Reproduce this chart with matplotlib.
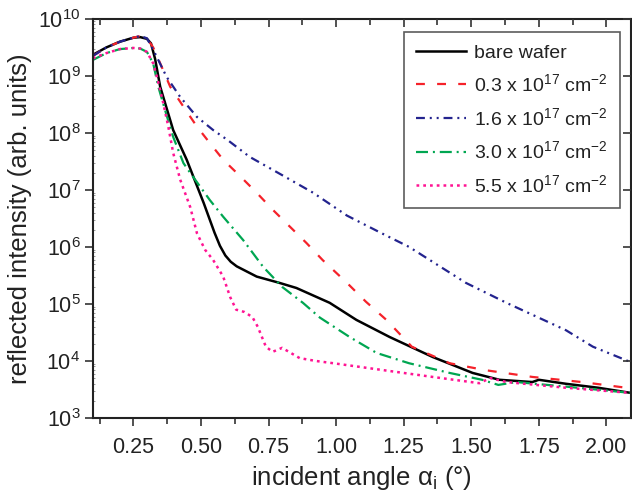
import numpy as np
import matplotlib
matplotlib.use("Agg")
from matplotlib import pyplot as plt
from matplotlib.ticker import FixedLocator, NullFormatter, LogFormatterMathtext

plt.rcParams['font.family'] = ['Liberation Sans', 'DejaVu Sans']
plt.rcParams['mathtext.fontset'] = 'custom'
plt.rcParams['mathtext.rm'] = 'Liberation Sans'
plt.rcParams['mathtext.it'] = 'Liberation Sans:italic'

# curves: angle (deg), log10(intensity)
bare_x = [0.10, 0.15, 0.20, 0.25, 0.275, 0.30, 0.315, 0.33, 0.349, 0.397, 0.447, 0.51, 0.55,
          0.57, 0.59, 0.61, 0.632, 0.706, 0.79, 0.853, 0.976, 1.075, 1.198, 1.357, 1.505,
          1.604, 1.726, 1.75, 1.85, 1.97, 2.09]
bare_y = [9.37, 9.50, 9.60, 9.67, 9.68, 9.65, 9.57, 9.30, 8.81, 8.05, 7.53, 6.77, 6.25,
          6.02, 5.85, 5.74, 5.66, 5.48, 5.37, 5.28, 5.02, 4.72, 4.42, 4.07, 3.79,
          3.67, 3.63, 3.67, 3.60, 3.53, 3.44]

d03_x = [0.10, 0.15, 0.20, 0.25, 0.275, 0.30, 0.323, 0.349, 0.386, 0.435, 0.485, 0.533, 0.582,
         0.645, 0.706, 0.766, 0.83, 0.89, 0.95, 1.04, 1.11, 1.186, 1.28, 1.42, 1.55, 1.726,
         1.91, 2.09]
d03_y = [9.35, 9.50, 9.60, 9.67, 9.70, 9.66, 9.50, 9.22, 8.81, 8.46, 8.11, 7.82, 7.53,
         7.24, 6.95, 6.65, 6.35, 6.07, 5.77, 5.37, 5.04, 4.72, 4.25, 3.96, 3.84, 3.72,
         3.63, 3.52]

d16_x = [0.10, 0.15, 0.20, 0.25, 0.275, 0.30, 0.323, 0.373, 0.423, 0.485, 0.545, 0.597, 0.68,
         0.80, 0.915, 1.04, 1.16, 1.27, 1.48, 1.63, 1.85, 1.95, 2.09]
d16_y = [9.35, 9.50, 9.60, 9.67, 9.70, 9.66, 9.46, 8.98, 8.63, 8.28, 8.05, 7.88, 7.58,
         7.26, 6.95, 6.55, 6.26, 6.00, 5.37, 5.02, 4.54, 4.25, 3.98]

d30_x = [0.10, 0.15, 0.20, 0.25, 0.275, 0.30, 0.323, 0.342, 0.367, 0.397, 0.435, 0.46, 0.533,
         0.582, 0.656, 0.73, 0.80, 0.877, 0.94, 1.05, 1.15, 1.27, 1.42, 1.54, 1.60, 1.667,
         1.85, 2.09]
d30_y = [9.28, 9.40, 9.47, 9.49, 9.48, 9.42, 9.22, 8.81, 8.40, 7.93, 7.47, 7.30, 6.82,
         6.53, 6.12, 5.65, 5.30, 5.02, 4.76, 4.42, 4.14, 3.96, 3.79, 3.67, 3.58, 3.63,
         3.55, 3.44]

d55_x = [0.10, 0.15, 0.20, 0.25, 0.275, 0.30, 0.323, 0.337, 0.36, 0.379, 0.397, 0.423, 0.46,
         0.485, 0.515, 0.545, 0.582, 0.608, 0.63, 0.66, 0.69, 0.71, 0.74, 0.765, 0.80, 0.865,
         0.925, 0.99, 1.173, 1.357, 1.53, 1.57, 1.63, 1.85, 2.09]
d55_y = [9.31, 9.40, 9.47, 9.49, 9.48, 9.42, 9.22, 8.98, 8.53, 8.11, 7.65, 7.18, 6.70,
         6.24, 5.95, 5.77, 5.48, 5.12, 4.90, 4.86, 4.77, 4.60, 4.25, 4.16, 4.23, 4.05,
         4.00, 3.96, 3.84, 3.72, 3.61, 3.70, 3.63, 3.53, 3.44]

labels = ['bare wafer',
          r'0.3 x 10$^{17}$ cm$^{-2}$',
          r'1.6 x 10$^{17}$ cm$^{-2}$',
          r'3.0 x 10$^{17}$ cm$^{-2}$',
          r'5.5 x 10$^{17}$ cm$^{-2}$']

x_major = [0.25, 0.5, 0.75, 1.0, 1.25, 1.5, 1.75, 2.0]
x_minor = [0.125, 0.375, 0.625, 0.875, 1.125, 1.375, 1.625, 1.875]
y_major = [1e3, 1e4, 1e5, 1e6, 1e7, 1e8, 1e9, 1e10]
y_minor = [m * 10.0 ** e for e in range(3, 10) for m in range(2, 10)]

fig = plt.figure(figsize=(6.32, 4.97), dpi=100)
rect = [0.147, 0.159, 0.851, 0.803]
ax = fig.add_axes(rect)

ax.plot(bare_x, 10 ** np.array(bare_y), color='black', lw=1.8, ls='-', label=labels[0])
ax.plot(d03_x, 10 ** np.array(d03_y), color='#f5222a', lw=1.6, ls=(0, (4, 5.5)), label=labels[1])
ax.plot(d16_x, 10 ** np.array(d16_y), color='#23238e', lw=1.6,
        ls=(0, (4, 2.2, 0.9, 2.2, 0.9, 2.2)), label=labels[2])
ax.plot(d30_x, 10 ** np.array(d30_y), color='#00a651', lw=1.6, ls=(0, (5.4, 2.2, 0.9, 2.2)), label=labels[3])
ax.plot(d55_x, 10 ** np.array(d55_y), color='#ff1493', lw=1.8, ls=(0, (1.1, 1.6)), label=labels[4])

ax.set_yscale('log')
ax.set_xlim(0.1, 2.09)
ax.set_ylim(1e3, 1e10)

ax.xaxis.set_major_locator(FixedLocator(x_major))
ax.xaxis.set_minor_locator(FixedLocator(x_minor))
ax.set_xticklabels(['0.25', '0.50', '0.75', '1.00', '1.25', '1.50', '1.75', '2.00'])
ax.yaxis.set_major_locator(FixedLocator(y_major))
ax.yaxis.set_major_formatter(LogFormatterMathtext())
ax.yaxis.set_minor_locator(FixedLocator(y_minor))
ax.yaxis.set_minor_formatter(NullFormatter())

ax.tick_params(axis='both', which='major', labelsize=15.5, length=6, width=1.2, color='#333333',
               labelcolor='#222222')
ax.tick_params(axis='x', which='minor', length=4, width=1.2, color='#333333')
ax.tick_params(axis='y', which='minor', length=1.5, width=0.6, color='#888888', direction='in')
ax.tick_params(axis='y', which='major', pad=3)
ax.tick_params(axis='x', which='major', pad=8)

for s in ax.spines.values():
    s.set_linewidth(1.5)
    s.set_color('#222222')

# overlay axes only for the inward ticks on top and right
mirror = fig.add_axes(rect, sharex=ax, sharey=ax, frameon=False, label='mirror')
mirror.patch.set_visible(False)
mirror.tick_params(which='both', direction='in', top=True, right=True, bottom=False, left=False,
                   labelbottom=False, labelleft=False, labeltop=False, labelright=False,
                   color='#333333', width=1.2)
mirror.tick_params(which='major', length=6)
mirror.tick_params(axis='x', which='minor', length=4)
mirror.tick_params(axis='y', which='minor', length=0)

ax.set_xlabel(r'incident angle α$_\mathrm{i}$ (°)', fontsize=18.5, color='#222222', labelpad=4)
ax.set_ylabel('reflected intensity (arb. units)', fontsize=18.5, color='#222222', labelpad=4)

leg = ax.legend(loc='upper right', bbox_to_anchor=(0.98, 0.967), fontsize=14, frameon=True,
                fancybox=False, edgecolor='#333333', handlelength=2.6, handletextpad=0.4,
                labelspacing=0.6, borderpad=0.62, borderaxespad=0)
leg.get_frame().set_linewidth(1.2)
for t in leg.get_texts():
    t.set_color('#222222')

fig.savefig('out.png', dpi=100)
